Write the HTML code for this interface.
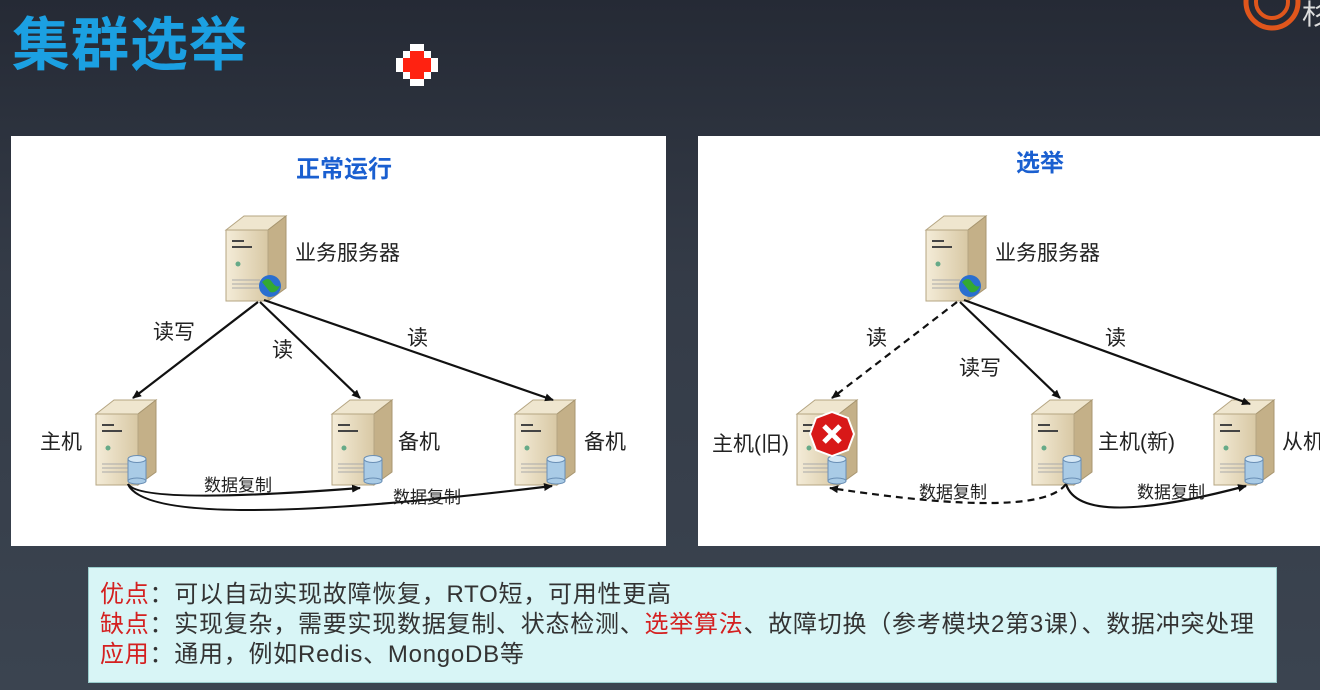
<!DOCTYPE html>
<html><head><meta charset="utf-8"><style>
body{margin:0;width:1320px;height:690px;overflow:hidden;background:linear-gradient(#252a35,#343b47 40%,#3b4450);font-family:"Liberation Sans","Noto Sans CJK SC",sans-serif;position:relative}
.t{position:absolute;left:12px;top:6px;font-size:58px;font-weight:bold;color:#1ba0e2;letter-spacing:1px;line-height:80px}
.p{position:absolute;background:#fff}
.box{position:absolute;left:88px;top:567px;width:1189px;height:116px;background:#d8f5f6;border:1px solid #9cc;font-size:24px;color:#333;line-height:30px;padding-top:12px;box-sizing:border-box;padding-left:11px;white-space:nowrap;letter-spacing:0.75px}
.r{color:#d42020}
</style></head><body>
<div class="t">集群选举</div>
<svg style="position:absolute;left:396px;top:44px" width="42" height="42"><path d="M14 0h14v7h7v7h7v14h-7v7h-7v7H14v-7H7v-7H0V14h7V7h7z" fill="#fff"/><path d="M14 7h14v7h7v14h-7v7H14v-7H7V14h7z" fill="#f21"/></svg>
<svg style="position:absolute;left:1240px;top:0" width="80" height="32"><circle cx="32" cy="2" r="26" fill="none" stroke="#e0561c" stroke-width="5"/><circle cx="32" cy="2" r="16" fill="none" stroke="#e0561c" stroke-width="4"/><text x="62" y="24" fill="#ddd" font-size="28">杉</text></svg>
<div class="p" style="left:11px;top:136px;width:655px;height:410px"></div>
<div class="p" style="left:698px;top:136px;width:622px;height:410px"></div>
<svg style="position:absolute;left:0;top:0" width="1320" height="690">
<defs>
<linearGradient id="fg" x1="0" x2="1"><stop offset="0" stop-color="#f4ecd8"/><stop offset="1" stop-color="#d8c8a4"/></linearGradient>
<g id="srv">
<polygon points="0,14 18,0 60,0 42,14" fill="#efe6cf" stroke="#b5a582"/>
<polygon points="42,14 60,0 60,72 42,85" fill="#c4b088" stroke="#a89670"/>
<rect x="0" y="14" width="42" height="71" fill="url(#fg)" stroke="#b5a582"/>
<rect x="6" y="24" width="12" height="2" fill="#444"/><rect x="6" y="30" width="20" height="2" fill="#444"/>
<circle cx="12" cy="48" r="2.5" fill="#6a8"/>
<path d="M6 64h28M6 68h28M6 72h28" stroke="#aaa"/>
</g>
<g id="db"><rect x="0" y="4" width="18" height="22" fill="#a9cbe6" stroke="#6a8fb5"/><ellipse cx="9" cy="26" rx="9" ry="3" fill="#a9cbe6" stroke="#6a8fb5"/><ellipse cx="9" cy="4" rx="9" ry="3.5" fill="#d6e8f5" stroke="#6a8fb5"/></g>
<marker id="a" markerWidth="10" markerHeight="10" refX="8" refY="5" orient="auto" markerUnits="userSpaceOnUse"><path d="M0 1L9 5L0 9z" fill="#111"/></marker>
</defs>
<g fill="#222">
<text x="344" y="177" text-anchor="middle" font-weight="bold" fill="#1a5fd0" font-size="24">正常运行</text>
<text x="1040" y="171" text-anchor="middle" font-weight="bold" fill="#1a5fd0" font-size="24">选举</text>
</g>
<use href="#srv" x="226" y="216"/><circle cx="270" cy="286" r="11" fill="#2a6fd0"/><path d="M262 282q6-6 10 0t8 4q-4 8-10 6z" fill="#3a3"/>
<use href="#srv" x="926" y="216"/><circle cx="970" cy="286" r="11" fill="#2a6fd0"/><path d="M962 282q6-6 10 0t8 4q-4 8-10 6z" fill="#3a3"/>
<use href="#srv" x="96" y="400"/><use href="#db" x="128" y="455"/>
<use href="#srv" x="332" y="400"/><use href="#db" x="364" y="455"/>
<use href="#srv" x="515" y="400"/><use href="#db" x="547" y="455"/>
<use href="#srv" x="797" y="400"/><use href="#db" x="828" y="455"/>
<polygon points="816,418 832,412 848,418 854,434 848,450 832,456 816,450 810,434" fill="#d81818" stroke="#fff" stroke-width="2"/>
<path d="M824 426l16 16M840 426l-16 16" stroke="#fff" stroke-width="5"/>
<use href="#srv" x="1032" y="400"/><use href="#db" x="1063" y="455"/>
<use href="#srv" x="1214" y="400"/><use href="#db" x="1245" y="455"/>
<g stroke="#111" stroke-width="2.2" fill="none" marker-end="url(#a)">
<path d="M258 302L133 398"/><path d="M260 302L360 398"/><path d="M264 300L553 400"/>
<path d="M128 484Q140 505 360 488"/><path d="M128 484Q150 535 552 486"/>
<path d="M957 302L832 398" stroke-dasharray="7 5"/><path d="M960 302L1060 398"/><path d="M964 300L1250 404"/>
<path d="M1066 484Q1040 520 830 488" stroke-dasharray="7 5"/><path d="M1066 484Q1080 530 1246 486"/>
</g>
<g font-size="21" fill="#222" font-family="Liberation Sans,Noto Sans CJK SC,sans-serif">
<text x="295" y="260">业务服务器</text><text x="995" y="260">业务服务器</text>
<text x="40" y="449">主机</text><text x="398" y="449">备机</text><text x="584" y="449">备机</text>
<text x="712" y="451">主机(旧)</text><text x="1098" y="449">主机(新)</text><text x="1282" y="449">从机</text>
<text x="153" y="339">读写</text><text x="272" y="357">读</text><text x="407" y="345">读</text>
<text x="866" y="345">读</text><text x="959" y="375">读写</text><text x="1105" y="345">读</text>
<g font-size="17"><text x="204" y="491">数据复制</text><text x="393" y="503">数据复制</text>
<text x="919" y="498">数据复制</text><text x="1137" y="498">数据复制</text></g>
</g>
</svg>
<div class="box"><span class="r">优点</span>：可以自动实现故障恢复，RTO短，可用性更高<br><span class="r">缺点</span>：实现复杂，需要实现数据复制、状态检测、<span class="r">选举算法</span>、故障切换（参考模块2第3课）、数据冲突处理<br><span class="r">应用</span>：通用，例如Redis、MongoDB等</div>
</body></html>
